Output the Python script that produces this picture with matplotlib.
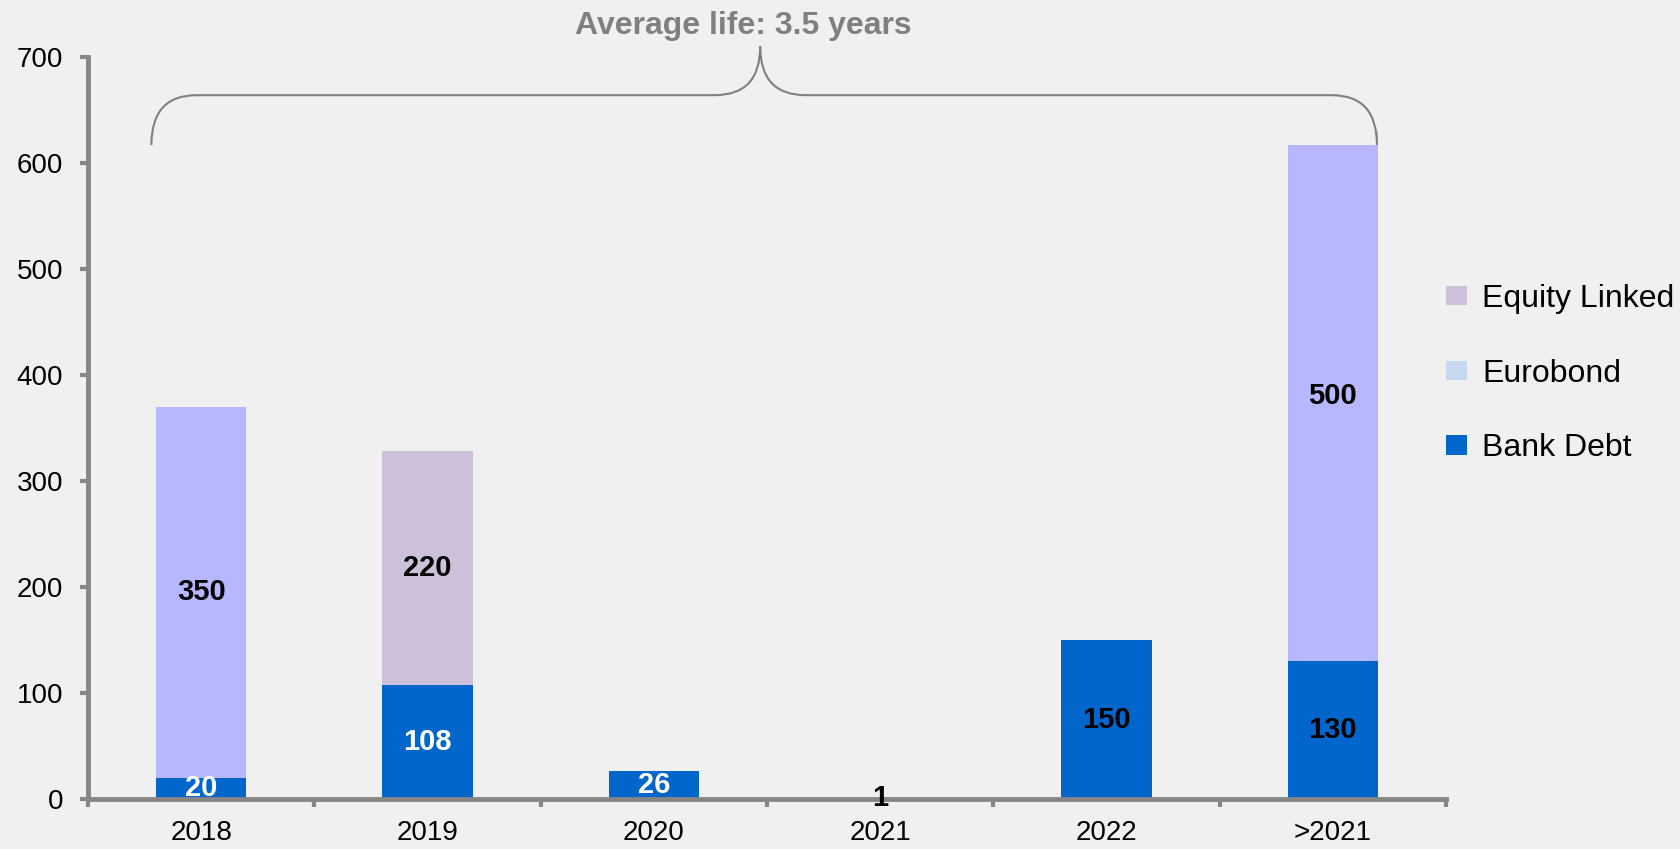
import matplotlib
matplotlib.use("Agg")
import matplotlib.pyplot as plt
from matplotlib.patches import Patch, Rectangle, PathPatch
from matplotlib.path import Path
import numpy as np

plt.rcParams["font.family"] = ["Liberation Sans", "DejaVu Sans"]

# data
categories = ["2018", "2019", "2020", "2021", "2022", ">2021"]
bank_debt = [20, 108, 26, 1, 150, 130]
eurobond = [350, 0, 0, 0, 0, 500]
equity_linked = [0, 220, 0, 0, 0, 0]
yticks = [0, 100, 200, 300, 400, 500, 600, 700]
title_text = "Average life: 3.5 years"

BG = "#f0f0f0"
GREY = "#868686"
C_BANK = "#0066cc"
C_EURO = "#b7b7ff"
C_EQ = "#ccc0da"
C_EURO_LEG = "#c6d9f1"

fig = plt.figure(figsize=(16.8, 8.49), dpi=100, facecolor=BG)
ax = fig.add_axes([0.05238, 0.05889, 0.80833, 0.87397], facecolor=BG)

x = np.arange(len(categories))
w = 0.4
bank = np.array(bank_debt)
euro = np.array(eurobond)
eq = np.array(equity_linked)

ax.bar(x, bank, w, color=C_BANK, zorder=2)
ax.bar(x, euro, w, bottom=bank, color=C_EURO, zorder=2)
ax.bar(x, eq, w, bottom=bank + euro, color=C_EQ, zorder=2)

# value labels
for i in range(len(x)):
    if bank[i] > 0:
        col = "white" if i in (0, 1, 2) else "black"
        ax.text(x[i], bank[i] / 2, str(bank[i]), ha="center", va="center",
                fontsize=21, fontweight="bold", color=col, zorder=5, clip_on=False)
    if euro[i] > 0:
        ax.text(x[i], bank[i] + euro[i] / 2, str(euro[i]), ha="center", va="center",
                fontsize=21, fontweight="bold", color="black", zorder=5)
    if eq[i] > 0:
        ax.text(x[i], bank[i] + euro[i] + eq[i] / 2, str(eq[i]), ha="center", va="center",
                fontsize=21, fontweight="bold", color="black", zorder=5)

ax.set_xlim(-0.5, 5.5)
ax.set_ylim(0, 700)

# axes styling
for s in ["top", "right"]:
    ax.spines[s].set_visible(False)
for s in ["left", "bottom"]:
    ax.spines[s].set_color(GREY)
    ax.spines[s].set_linewidth(3.5)
    ax.spines[s].set_zorder(3)

ax.set_yticks(yticks)
ax.set_yticklabels([str(v) for v in yticks])
ax.tick_params(axis="y", length=6, width=3, color=GREY, labelsize=20, pad=12)

ax.set_xticks(np.arange(-0.5, 6, 1.0))
ax.set_xticklabels([])
ax.tick_params(axis="x", which="major", length=6, width=3, color=GREY)
ax.set_xticks(x, minor=True)
ax.set_xticklabels(categories, minor=True)
ax.tick_params(axis="x", which="minor", length=0, labelsize=20, pad=15)

# brace over bars
L, R, M = -0.22, 5.195, 2.47
yb, yh, yt = 617, 664, 710
rx = 0.2
cover = Rectangle((L, yb), R - L, yt - yb, facecolor=BG, edgecolor="none",
                  zorder=2.5, clip_on=False)
ax.add_patch(cover)
verts = [(L, yb), (L, yh), (L + rx, yh),
         (M - rx, yh), (M, yh), (M, yt),
         (M, yh), (M + rx, yh),
         (R - rx, yh), (R, yh), (R, yb)]
codes = [Path.MOVETO, Path.CURVE3, Path.CURVE3,
         Path.LINETO, Path.CURVE3, Path.CURVE3,
         Path.CURVE3, Path.CURVE3,
         Path.LINETO, Path.CURVE3, Path.CURVE3]
ax.add_patch(PathPatch(Path(verts, codes), facecolor="none", edgecolor="#808080",
                       lw=1.5, zorder=4, clip_on=False))

ax.text(2.394, 729, title_text, ha="center", va="center", fontsize=23,
        fontweight="bold", color="#808080", clip_on=False)

# legend
handles = [Patch(facecolor=C_EQ, label="Equity Linked"),
           Patch(facecolor=C_EURO_LEG, label="Eurobond"),
           Patch(facecolor=C_BANK, label="Bank Debt")]
fig.legend(handles=handles, loc="center left", bbox_to_anchor=(0.8435, 0.560),
           frameon=False, fontsize=23, handlelength=0.66, handleheight=0.55,
           handletextpad=0.47, labelspacing=1.4)

fig.savefig("out.png", dpi=100, facecolor=BG)
